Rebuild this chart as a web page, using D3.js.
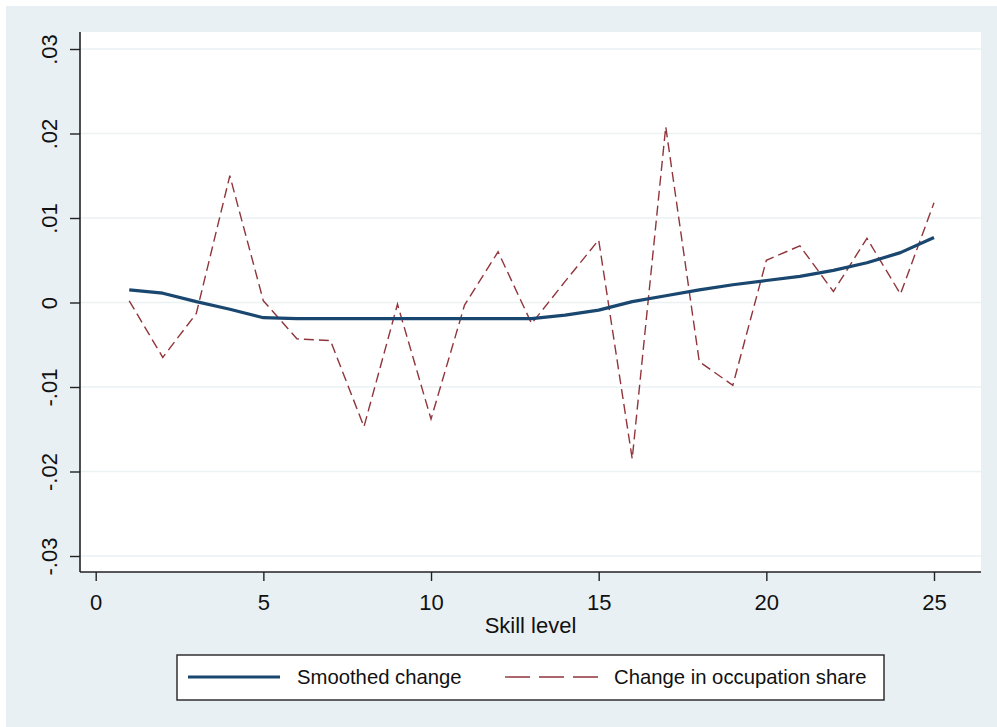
<!DOCTYPE html>
<html>
<head>
<meta charset="utf-8">
<script src="https://cdn.jsdelivr.net/npm/d3@7"></script>
<style>
  html, body { margin: 0; padding: 0; background: #ffffff; }
  svg { display: block; font-family: "Liberation Sans", Arial, sans-serif; }
</style>
</head>
<body>
<svg id="chart" width="997" height="727"></svg>
<script>
// ---- data ----
const skillLevels = [1,2,3,4,5,6,7,8,9,10,11,12,13,14,15,16,17,18,19,20,21,22,23,24,25];
const occupationShareChange = [0.0002,-0.0065,-0.0013,0.0150,0.0002,-0.0043,-0.0045,-0.0147,-0.0002,-0.0138,-0.0003,0.0060,-0.0025,0.0025,0.0074,-0.0185,0.0208,-0.0070,-0.0098,0.0050,0.0067,0.0013,0.0076,0.0010,0.0118];
const smoothedChange = [0.0015,0.0011,0.0001,-0.0008,-0.0018,-0.0019,-0.0019,-0.0019,-0.0019,-0.0019,-0.0019,-0.0019,-0.0019,-0.0015,-0.0009,0.0001,0.0008,0.0015,0.0021,0.0026,0.0031,0.0038,0.0047,0.0059,0.0077];
const xTickValues = [0,5,10,15,20,25];
const yTickValues = [-0.03,-0.02,-0.01,0,0.01,0.02,0.03];
const yTickLabels = ["-.03","-.02","-.01","0",".01",".02",".03"];
const seriesNames = ["Smoothed change","Change in occupation share"];
const xTitle = "Skill level";

// ---- layout ----
const svg = d3.select("#chart");
const W = 997, H = 727;
const plot = {left: 80, right: 981, top: 32, bottom: 572};

svg.append("rect").attr("x",0).attr("y",0).attr("width",W).attr("height",H).attr("fill","#ffffff");
svg.append("rect").attr("x",6).attr("y",6).attr("width",W-6).attr("height",H-6).attr("fill","#e9f0f3");
svg.append("rect").attr("x",plot.left).attr("y",plot.top)
   .attr("width",plot.right-plot.left).attr("height",plot.bottom-plot.top).attr("fill","#ffffff");

const x = d3.scaleLinear().domain([0,25]).range([95.7,934]);
const y = d3.scaleLinear().domain([0,0.03]).range([302.5,49]);

// gridlines
svg.append("g").selectAll("line").data(yTickValues).join("line")
  .attr("x1",plot.left).attr("x2",plot.right)
  .attr("y1",d=>y(d)).attr("y2",d=>y(d))
  .attr("stroke","#eaf2f3").attr("stroke-width",1.6);

// y axis
const yAxis = d3.axisLeft(y).tickValues(yTickValues).tickSize(10)
  .tickFormat((d,i)=>yTickLabels[i]);
const gy = svg.append("g").attr("transform",`translate(${plot.left},0)`).call(yAxis);
gy.select(".domain").attr("d",`M0,${plot.top}V${plot.bottom}`).attr("stroke","#222").attr("stroke-width",1.6);
gy.selectAll(".tick line").attr("stroke","#222").attr("stroke-width",1.4);
gy.selectAll(".tick text")
  .attr("font-size",22).attr("fill","#111")
  .attr("font-family","'Liberation Sans', Arial, sans-serif")
  .attr("x",null).attr("dy",null)
  .attr("text-anchor","middle")
  .attr("transform","translate(-23,0) rotate(-90)");

// x axis
const xAxis = d3.axisBottom(x).tickValues(xTickValues).tickSize(9).tickFormat(d3.format("d"));
const gx = svg.append("g").attr("transform",`translate(0,${plot.bottom})`).call(xAxis);
gx.select(".domain").attr("d",`M${plot.left},0H${plot.right}`).attr("stroke","#222").attr("stroke-width",1.6);
gx.selectAll(".tick line").attr("stroke","#222").attr("stroke-width",1.4);
gx.selectAll(".tick text")
  .attr("font-size",22).attr("fill","#111")
  .attr("font-family","'Liberation Sans', Arial, sans-serif")
  .attr("y",38).attr("dy",null);

// x title
svg.append("text").attr("x",(plot.left+plot.right)/2).attr("y",633)
  .attr("text-anchor","middle").attr("font-size",22).attr("fill","#111").text(xTitle);

// lines
const dataOcc = skillLevels.map((s,i)=>({s, v: occupationShareChange[i]}));
const dataSm = skillLevels.map((s,i)=>({s, v: smoothedChange[i]}));

svg.append("path").datum(dataOcc)
  .attr("d", d3.line().x(d=>x(d.s)).y(d=>y(d.v)))
  .attr("fill","none").attr("stroke","#90353b").attr("stroke-width",1.4)
  .attr("stroke-dasharray","10,5");

svg.append("path").datum(dataSm)
  .attr("d", d3.line().x(d=>x(d.s)).y(d=>y(d.v)))
  .attr("fill","none").attr("stroke","#1a476f").attr("stroke-width",3.2)
  .attr("stroke-linejoin","round");

// legend
const lg = svg.append("g");
lg.append("rect").attr("x",177).attr("y",655).attr("width",707).attr("height",45)
  .attr("fill","#ffffff").attr("stroke","#222").attr("stroke-width",1.4);
lg.append("line").attr("x1",188).attr("x2",280).attr("y1",677).attr("y2",677)
  .attr("stroke","#1a476f").attr("stroke-width",3.2);
lg.append("text").attr("x",297).attr("y",684).attr("font-size",20.3).attr("fill","#111").text(seriesNames[0]);
lg.append("line").attr("x1",505).attr("x2",598).attr("y1",677).attr("y2",677)
  .attr("stroke","#90353b").attr("stroke-width",1.4).attr("stroke-dasharray","25,9");
lg.append("text").attr("x",614).attr("y",684).attr("font-size",20.3).attr("fill","#111").text(seriesNames[1]);
</script>
</body>
</html>
